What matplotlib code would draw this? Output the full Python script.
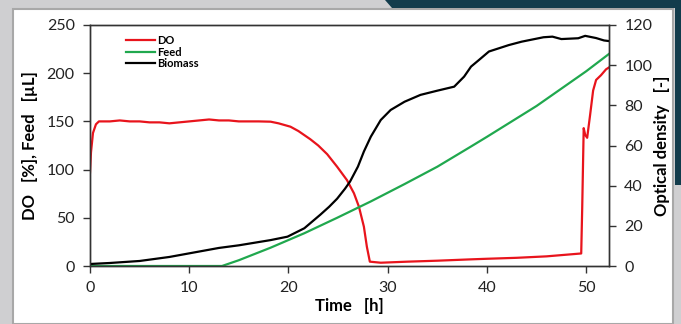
import numpy as np
from matplotlib import pyplot as plt
from matplotlib.patches import Rectangle, Polygon

# DO [%] (left axis)
do_t = [0, 0.1, 0.3, 0.6, 0.9, 2, 3, 4, 5, 6, 7, 8, 9, 10, 11, 12, 13, 14, 15, 16, 17, 18.2,
        19, 20.2, 21, 22.2, 23, 23.9, 24.9, 25.9, 26.6, 27.1, 27.6, 27.9, 28.2, 29.3, 32, 35,
        38.4, 40, 43, 46, 49.5, 49.6, 49.75, 49.9, 50.1, 50.4, 50.7, 51.0, 51.5, 52.0, 52.3]
do_v = [97, 118, 138, 147, 150, 150, 151, 150, 150, 149, 149, 148, 149, 150, 151, 152, 151,
        151, 150, 150, 150, 149.7, 148, 144.5, 140, 131.5, 125, 116, 103, 89, 75.4, 61.5,
        40.8, 20, 4.5, 3.4, 4.5, 5.5, 6.9, 7.5, 8.5, 10, 13, 60, 143, 136, 133, 157, 182,
        193, 198, 204, 206]

# Feed [uL] (left axis)
feed_t = [0, 13.3, 15, 18.2, 21.6, 24.9, 28.3, 31.7, 35, 38.4, 40, 45, 50, 52.3]
feed_v = [0, 0, 6, 19, 34, 50, 67, 85, 103, 124, 134, 166, 202, 220]

# Biomass, optical density [-] (right axis)
bio_t = [0, 2, 5, 8, 10, 13, 15, 18.2, 19.9, 21.6, 23.2, 24.1, 24.9, 25.7, 26.2, 27.0,
         27.6, 28.3, 29.3, 30.3, 31.7, 33.3, 35, 36.7, 37.7, 38.4, 39.2, 40.2, 42.2, 43.5,
         45.7, 46.6, 47.5, 49.2, 49.9, 51, 51.8, 52.3]
bio_v = [1, 1.5, 2.5, 4.5, 6.3, 9, 10.3, 12.9, 14.6, 18.8, 25.5, 29.5, 33.5, 38.5, 42,
         49.5, 57, 64.4, 72.7, 77.7, 81.8, 85.2, 87.3, 89.3, 94.3, 99.3, 102.6, 106.8, 110,
         111.7, 113.9, 114.2, 113, 113.4, 114.6, 113.5, 112.3, 112]

fig = plt.figure(figsize=(6.81, 3.24), dpi=100, facecolor="#cfcfd1")
fig.patches.append(Rectangle((13/681, 0), 660/681, 1 - 9/324, transform=fig.transFigure,
                             facecolor="white", edgecolor="#a8a8a8", lw=1.5, zorder=-10))
fig.patches.append(Polygon([(385/681, 1), (1, 1), (1, 1 - 185/324), (675/681, 1 - 185/324),
                            (675/681, 1 - 8/324), (392/681, 1 - 8/324)],
                           closed=True, transform=fig.transFigure,
                           facecolor="#123c4c", edgecolor="none", zorder=-10))

ax = fig.add_axes([90/681, 1 - 266/324, 519/681, 241/324])
ax2 = ax.twinx()

l1, = ax.plot(do_t, do_v, color="#e8141c", lw=1.6, label="DO")
l2, = ax.plot(feed_t, feed_v, color="#20a84e", lw=1.6, label="Feed")
l3, = ax2.plot(bio_t, bio_v, color="black", lw=1.6, label="Biomass")

ax.set_xlim(0, 52.3)
ax.set_ylim(0, 250)
ax2.set_ylim(0, 120)
ax.set_xticks([0, 10, 20, 30, 40, 50])
ax.set_yticks([0, 50, 100, 150, 200, 250])
ax2.set_yticks([0, 20, 40, 60, 80, 100, 120])

for a in (ax, ax2):
    for s in a.spines.values():
        s.set_color("#333333")
        s.set_linewidth(1.0)
    a.tick_params(direction="out", length=5, width=1, color="#333333",
                  labelsize=11.5, labelcolor="#222222", pad=6)
    for lab in a.get_xticklabels() + a.get_yticklabels():
        lab.set_family("Lato")

ax.set_xlabel("Time   [h]", fontsize=12, fontweight="bold", family="Lato", labelpad=2)
ax.set_ylabel("DO   [%], Feed   [µL]", fontsize=12, fontweight="bold", family="Lato", labelpad=6)
ax2.set_ylabel("Optical density   [-]", fontsize=12, fontweight="bold", family="Lato", labelpad=1)

ax.legend([l1, l2, l3], ["DO", "Feed", "Biomass"], loc="upper left", frameon=False,
          bbox_to_anchor=(0.05, 1.0), handlelength=2.6, handletextpad=0.2,
          labelspacing=0.05, prop={"family": "Lato", "weight": "bold", "size": 8})

fig.savefig("out.png", dpi=100, facecolor=fig.get_facecolor())
